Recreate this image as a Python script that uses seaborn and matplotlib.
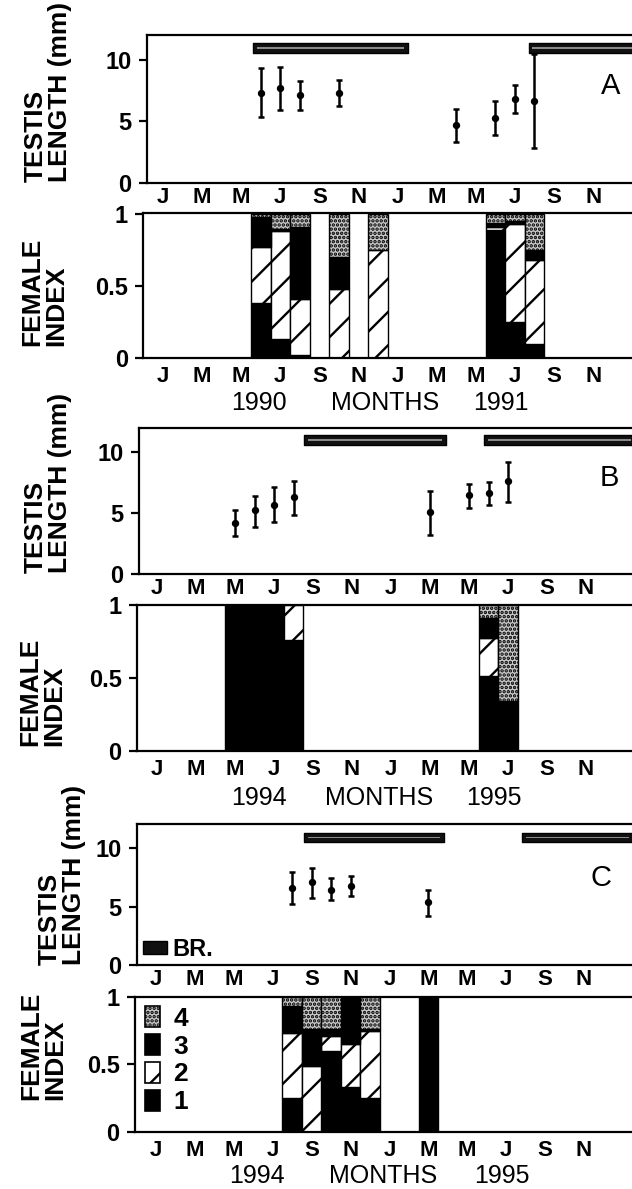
import numpy as np
import pandas as pd
import matplotlib
matplotlib.use("Agg")
import matplotlib.pyplot as plt
import seaborn as sns
from matplotlib.patches import Patch

# ---------------- data ----------------
month_ticks = list(range(0, 24, 2))
month_labels = ["J", "M", "M", "J", "S", "N"] * 2
stage_names = ["1", "2", "3", "4"]

# Panel A (1990-1991)
A_testis_month = [5, 6, 7, 9, 15, 17, 18, 19]
A_testis_mean = [7.30, 7.71, 7.11, 7.30, 4.69, 5.28, 6.85, 6.63]
A_testis_lo = [5.36, 5.90, 5.90, 6.22, 3.34, 3.88, 5.69, 2.80]
A_testis_hi = [9.35, 9.40, 8.27, 8.33, 6.04, 6.63, 7.92, 10.48]
A_br_start = [4.6, 18.7]
A_br_end = [12.55, 24.5]
A_bar_month = [5, 6, 7, 9, 11, 17, 18, 19]
A_stage1 = [0.38, 0.13, 0.02, 0.00, 0.00, 0.89, 0.25, 0.10]
A_stage2 = [0.39, 0.75, 0.39, 0.48, 0.75, 0.02, 0.68, 0.58]
A_stage3 = [0.21, 0.02, 0.50, 0.22, 0.00, 0.03, 0.02, 0.07]
A_stage4 = [0.02, 0.10, 0.09, 0.30, 0.25, 0.06, 0.05, 0.25]
A_years = ["1990", "1991"]

# Panel B (1994-1995)
B_testis_month = [4, 5, 6, 7, 14, 16, 17, 18]
B_testis_mean = [4.14, 5.23, 5.64, 6.27, 5.10, 6.46, 6.65, 7.63]
B_testis_lo = [3.11, 3.87, 4.22, 4.82, 3.19, 5.37, 5.64, 5.86]
B_testis_hi = [5.23, 6.38, 7.14, 7.63, 6.81, 7.36, 7.55, 9.18]
B_br_start = [7.55, 16.75]
B_br_end = [14.8, 24.5]
B_bar_month = [4, 5, 6, 7, 17, 18]
B_stage1 = [1.00, 1.00, 1.00, 0.76, 0.51, 0.34]
B_stage2 = [0.00, 0.00, 0.00, 0.24, 0.26, 0.00]
B_stage3 = [0.00, 0.00, 0.00, 0.00, 0.14, 0.00]
B_stage4 = [0.00, 0.00, 0.00, 0.00, 0.09, 0.66]
B_years = ["1994", "1995"]

# Panel C (1994-1995)
C_testis_month = [7, 8, 9, 10, 14]
C_testis_mean = [6.61, 7.10, 6.47, 6.81, 5.37]
C_testis_lo = [5.26, 5.75, 5.54, 5.89, 4.22]
C_testis_hi = [7.96, 8.34, 7.47, 7.61, 6.47]
C_br_start = [7.6, 18.8]
C_br_end = [14.8, 24.5]
C_bar_month = [7, 8, 9, 10, 11, 14]
C_stage1 = [0.25, 0.00, 0.60, 0.33, 0.25, 1.00]
C_stage2 = [0.48, 0.49, 0.11, 0.32, 0.50, 0.00]
C_stage3 = [0.20, 0.27, 0.05, 0.35, 0.01, 0.00]
C_stage4 = [0.07, 0.24, 0.24, 0.00, 0.24, 0.00]
C_years = ["1994", "1995"]

BR_LEVEL = 10.95

# ---------------- style ----------------
sns.set_theme(style="ticks")
plt.rcParams["font.family"] = ["Liberation Sans", "DejaVu Sans"]
plt.rcParams["hatch.linewidth"] = 1.7
plt.rcParams["axes.linewidth"] = 1.6
plt.rcParams["axes.edgecolor"] = "black"
plt.rcParams["xtick.color"] = "black"
plt.rcParams["ytick.color"] = "black"
plt.rcParams["text.color"] = "black"

STAGE_STYLES = [
    dict(facecolor="black", edgecolor="black"),
    dict(facecolor="white", edgecolor="black", hatch="/"),
    dict(facecolor="black", edgecolor="black"),
    dict(facecolor="#c8c8c8", edgecolor="black", hatch="...."),
]

W, H = 632, 1189
fig = plt.figure(figsize=(W / 100, H / 100), dpi=100)
fig.patch.set_facecolor("white")

TICK_FS = 16


def add_axes(L, T, B, x0, ppm, R=664):
    ax = fig.add_axes([L / W, 1 - B / H, (R - L) / W, (B - T) / H])
    ax.set_xlim((L - x0) / ppm, (R - x0) / ppm)
    for s in ax.spines.values():
        s.set_color("black")
        s.set_linewidth(1.6)
    ax.set_xticks(month_ticks)
    ax.set_xticklabels(month_labels, fontsize=TICK_FS, fontweight="bold")
    ax.tick_params(axis="y", direction="out", length=6, width=1.6,
                   labelsize=TICK_FS + 1, pad=5)
    return ax


def testis_panel(ax, months, mean, lo, hi, br_start, br_end, ytop, letter, letter_xy):
    months = np.asarray(months, float)
    mean = np.asarray(mean)
    lo = np.asarray(lo)
    hi = np.asarray(hi)
    ax.errorbar(months, mean, yerr=[mean - lo, hi - mean], fmt="none",
                ecolor="black", elinewidth=1.8, capsize=2.5, capthick=1.8, zorder=2)
    df = pd.DataFrame({"month": months, "mean": mean})
    sns.scatterplot(data=df, x="month", y="mean", color="black", s=28,
                    linewidth=0, ax=ax, zorder=3)
    bs = np.asarray(br_start, float)
    be = np.asarray(br_end, float)
    # breeding-season bar: solid dark band with a faint light stripe inside
    ax.broken_barh(list(zip(bs, be - bs)), (BR_LEVEL - 0.42, 0.84),
                   facecolors="#111111", edgecolors="black", linewidth=1.0,
                   zorder=2)
    ax.broken_barh(list(zip(bs + 0.2, be - bs - 0.4)), (BR_LEVEL - 0.05, 0.10),
                   facecolors="#8a8a8a", edgecolors="none", linewidth=0,
                   zorder=2.5)
    ax.set_ylim(0, ytop)
    ax.set_yticks([0, 5, 10])
    ax.set_yticklabels(["0", "5", "10"], fontweight="bold")
    ax.set_xlabel("")
    ax.set_ylabel("")
    ax.tick_params(axis="x", length=0, pad=3)
    ax.text(letter_xy[0], letter_xy[1], letter, fontsize=21, ha="center", va="center")


def stage_panel(ax, months, stages, ytop):
    months = np.asarray(months, float)
    bottom = np.zeros(len(months))
    for vals, style in zip(stages, STAGE_STYLES):
        vals = np.asarray(vals, float)
        m = vals > 0
        ax.bar(months[m], vals[m], bottom=bottom[m], width=1.0, linewidth=1.0,
               zorder=2, **style)
        bottom = bottom + vals
    ax.set_ylim(0, ytop)
    ax.set_yticks([0, 0.5, 1])
    ax.set_yticklabels(["0", "0.5", "1"], fontweight="bold")
    ax.tick_params(axis="x", length=0, pad=6)


def fig_text(x, y, s, **kw):
    fig.text(x / W, 1 - y / H, s, **kw)


YL = dict(fontsize=19, fontweight="bold", rotation=90, ha="center", va="bottom",
          multialignment="left", linespacing=1.0)

panels = [
    dict(top=(146.7, 35, 183), bot=(143.3, 212.7, 358), x0=163, ppm=19.55,
         ttop=12.0, btop=1.01,
         testis=(A_testis_month, A_testis_mean, A_testis_lo, A_testis_hi),
         br=(A_br_start, A_br_end),
         bars=(A_bar_month, [A_stage1, A_stage2, A_stage3, A_stage4]),
         letter="A", letter_xy=(22.9, 7.9), years=A_years,
         ylab_top=(48, 182), ylab_bot=(44, 346), xl_y=403,
         xl_k=(4.91, 11.36, 17.3)),
    dict(top=(139, 428.3, 574), bot=(137, 604.5, 751), x0=157, ppm=19.5,
         ttop=11.9, btop=1.0,
         testis=(B_testis_month, B_testis_mean, B_testis_lo, B_testis_hi),
         br=(B_br_start, B_br_end),
         bars=(B_bar_month, [B_stage1, B_stage2, B_stage3, B_stage4]),
         letter="B", letter_xy=(23.2, 7.85), years=B_years,
         ylab_top=(48, 573), ylab_bot=(42, 746), xl_y=798,
         xl_k=(5.23, 11.4, 17.3)),
    dict(top=(137, 824, 965), bot=(135, 996.7, 1132), x0=156, ppm=19.45,
         ttop=12.1, btop=1.0,
         testis=(C_testis_month, C_testis_mean, C_testis_lo, C_testis_hi),
         br=(C_br_start, C_br_end),
         bars=(C_bar_month, [C_stage1, C_stage2, C_stage3, C_stage4]),
         letter="C", letter_xy=(22.9, 7.5), years=C_years,
         ylab_top=(62, 965), ylab_bot=(43, 1100), xl_y=1176,
         xl_k=(5.18, 11.7, 17.8)),
]

axes_pairs = []
for p in panels:
    axt = add_axes(*p["top"], p["x0"], p["ppm"])
    testis_panel(axt, *p["testis"], *p["br"], p["ttop"], p["letter"], p["letter_xy"])
    axb = add_axes(*p["bot"], p["x0"], p["ppm"])
    stage_panel(axb, *p["bars"], p["btop"])
    axes_pairs.append((axt, axb))

    fig_text(*p["ylab_top"], "TESTIS\nLENGTH (mm)", **YL)
    fig_text(*p["ylab_bot"], "FEMALE\nINDEX", **YL)

    for k, s in zip(p["xl_k"], [p["years"][0], "MONTHS", p["years"][1]]):
        x_px = p["x0"] + k * p["ppm"]
        fig_text(x_px, p["xl_y"], s, fontsize=18, ha="center", va="center")

# Legends in panel C
axCt, axCb = axes_pairs[2]
br_handle = Patch(facecolor="#111111", edgecolor="black")
axCt.legend([br_handle], ["BR."], loc="lower left", bbox_to_anchor=(0.012, 0.03),
            frameon=False, handlelength=1.0, handleheight=0.45, handletextpad=0.25,
            borderaxespad=0, borderpad=0,
            prop=dict(size=17, weight="bold"))

stage_handles = [Patch(label=n, linewidth=1.2, **STAGE_STYLES[i])
                 for i, n in enumerate(stage_names)][::-1]
axCb.legend(handles=stage_handles, loc="upper left", bbox_to_anchor=(0.018, 0.93),
            frameon=False, handlelength=0.6, handleheight=0.85, handletextpad=0.5,
            labelspacing=0.12, borderaxespad=0, borderpad=0,
            prop=dict(size=19, weight="bold"))

fig.savefig("out.png", dpi=100, facecolor="white")
